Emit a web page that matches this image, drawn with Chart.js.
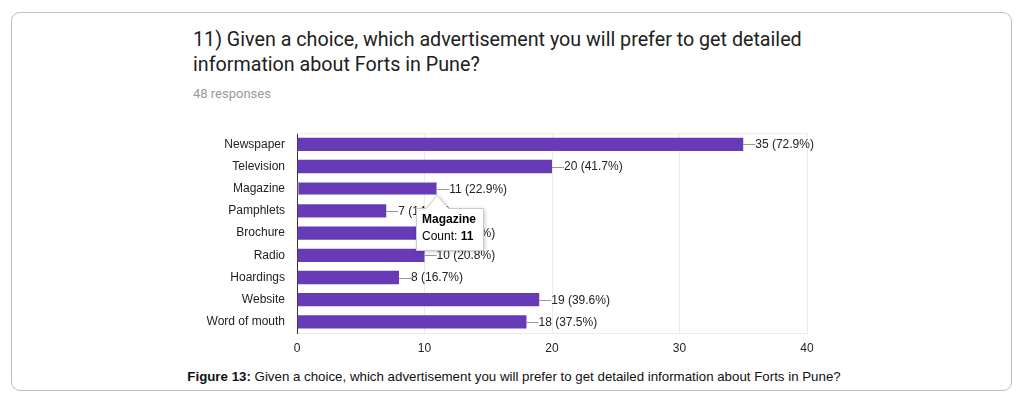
<!DOCTYPE html>
<html>
<head>
<meta charset="utf-8">
<script src="https://cdn.jsdelivr.net/npm/chart.js@4"></script>
<style>
  html, body { margin: 0; padding: 0; background: #fff; }
  body { width: 1028px; height: 398px; position: relative; overflow: hidden; }
  #frame {
    position: absolute; left: 11px; top: 12px; width: 999px; height: 377px;
    border: 1px solid #bdbdbd; border-radius: 9px;
  }
  #title {
    position: absolute; left: 193px; top: 27px; width: 640px;
    font: 19.7px Roboto, Arial, sans-serif; color: #212121; line-height: 25px;
  }
  #sub {
    position: absolute; left: 193px; top: 86px;
    font: 13px Roboto, Arial, sans-serif; color: #9a9a9a;
  }
  #wrap { position: absolute; left: 180px; top: 114px; width: 670px; height: 247px; }
  #cap {
    position: absolute; left: 0; top: 369px; width: 1028px; text-align: center;
    font: 13.3px "Liberation Sans", Arial, sans-serif; color: #111;
  }
</style>
</head>
<body>
<div id="frame"></div>
<div id="title">11) Given a choice, which advertisement you will prefer to get detailed information about Forts in Pune?</div>
<div id="sub">48 responses</div>
<div id="wrap"><canvas id="c"></canvas></div>
<div id="cap"><b>Figure 13:</b> Given a choice, which advertisement you will prefer to get detailed information about Forts in Pune?</div>
<script>
const categories = ['Newspaper', 'Television', 'Magazine', 'Pamphlets', 'Brochure', 'Radio', 'Hoardings', 'Website', 'Word of mouth'];
const counts = [35, 20, 11, 7, 10, 10, 8, 19, 18];
const percents = ['72.9%', '41.7%', '22.9%', '14.6%', '20.8%', '20.8%', '16.7%', '39.6%', '37.5%'];
const xTicks = [0, 10, 20, 30, 40];
const hoverIndex = 2;

const FONT = '"Liberation Sans", Arial, sans-serif';

// leader line + "n (p%)" next to each bar
const barLabels = {
  id: 'barLabels',
  afterDatasetsDraw(chart){
    const { ctx } = chart;
    const meta = chart.getDatasetMeta(0);
    ctx.save();
    ctx.font = '12px ' + FONT;
    ctx.textBaseline = 'middle';
    meta.data.forEach((bar, i) => {
      const x = bar.x, y = bar.y;
      ctx.strokeStyle = '#999';
      ctx.lineWidth = 1;
      ctx.beginPath();
      ctx.moveTo(x, Math.round(y) + 0.5);
      ctx.lineTo(x + 12, Math.round(y) + 0.5);
      ctx.stroke();
      ctx.fillStyle = '#222';
      ctx.fillText(counts[i] + ' (' + percents[i] + ')', x + 12, y + 0.5);
    });
    ctx.restore();
  }
};

// top frame line of plot area
const topLine = {
  id: 'topLine',
  beforeDatasetsDraw(chart){
    const { ctx, chartArea: a } = chart;
    ctx.save();
    ctx.strokeStyle = '#ebebeb';
    ctx.beginPath();
    ctx.moveTo(a.left, a.top + 0.5);
    ctx.lineTo(a.right, a.top + 0.5);
    ctx.stroke();
    ctx.restore();
  }
};

// static hover card like the screenshot
const hoverCard = {
  id: 'hoverCard',
  afterDraw(chart){
    const { ctx } = chart;
    const bar = chart.getDatasetMeta(0).data[hoverIndex];
    const px = bar.x, py = bar.y + bar.height / 2;
    const bx = Math.round(px - 21), by = Math.round(py + 13), bw = 67, bh = 42;
    const shape = () => {
      ctx.beginPath();
      ctx.moveTo(bx + 0.5, by + 0.5);
      ctx.lineTo(px - 11, by + 0.5);
      ctx.lineTo(px, py);
      ctx.lineTo(px + 11, by + 0.5);
      ctx.lineTo(bx + bw + 0.5, by + 0.5);
      ctx.lineTo(bx + bw + 0.5, by + bh + 0.5);
      ctx.lineTo(bx + 0.5, by + bh + 0.5);
      ctx.closePath();
    };
    ctx.save();
    ctx.shadowColor = 'rgba(0,0,0,0.25)';
    ctx.shadowBlur = 4;
    ctx.shadowOffsetX = 1;
    ctx.shadowOffsetY = 1;
    ctx.fillStyle = '#fff';
    shape();
    ctx.fill();
    ctx.shadowColor = 'transparent';
    ctx.strokeStyle = '#ccc';
    ctx.lineWidth = 1;
    shape();
    ctx.stroke();
    ctx.fillStyle = '#000';
    ctx.textBaseline = 'middle';
    ctx.font = 'bold 12px ' + FONT;
    ctx.fillText(categories[hoverIndex], bx + 6, by + 12);
    ctx.font = '12px ' + FONT;
    ctx.fillText('Count: ', bx + 6, by + 29);
    const w = ctx.measureText('Count: ').width;
    ctx.font = 'bold 12px ' + FONT;
    ctx.fillText(String(counts[hoverIndex]), bx + 6 + w, by + 29);
    ctx.restore();
  }
};

new Chart(document.getElementById('c'), {
  type: 'bar',
  data: {
    labels: categories,
    datasets: [{
      data: counts,
      backgroundColor: '#673ab7',
      borderColor: categories.map((_, i) => i === hoverIndex ? '#b0a8c0' : '#673ab7'),
      borderWidth: categories.map((_, i) => i === hoverIndex ? 1 : 0),
      borderSkipped: false,
      barPercentage: 0.6,
      categoryPercentage: 1
    }]
  },
  options: {
    indexAxis: 'y',
    responsive: true,
    maintainAspectRatio: false,
    animation: false,
    events: [],
    layout: { padding: { top: 8, right: 43, left: 0, bottom: 0 } },
    plugins: { legend: { display: false }, tooltip: { enabled: false } },
    scales: {
      x: {
        min: 0, max: 40,
        afterBuildTicks: (s) => { s.ticks = xTicks.map(v => ({ value: v })); },
        afterFit: (s) => { s.height = 28; },
        grid: { color: '#ebebeb', drawTicks: false },
        border: { color: '#ebebeb' },
        ticks: { padding: 8, color: '#222', font: { family: FONT, size: 12 } }
      },
      y: {
        afterFit: (s) => { s.width = 117; },
        grid: { display: false, drawTicks: false },
        border: { display: true, color: '#333', width: 1 },
        ticks: { padding: 12, color: '#222', font: { family: FONT, size: 12 } }
      }
    }
  },
  plugins: [topLine, barLabels, hoverCard]
});
</script>
</body>
</html>
